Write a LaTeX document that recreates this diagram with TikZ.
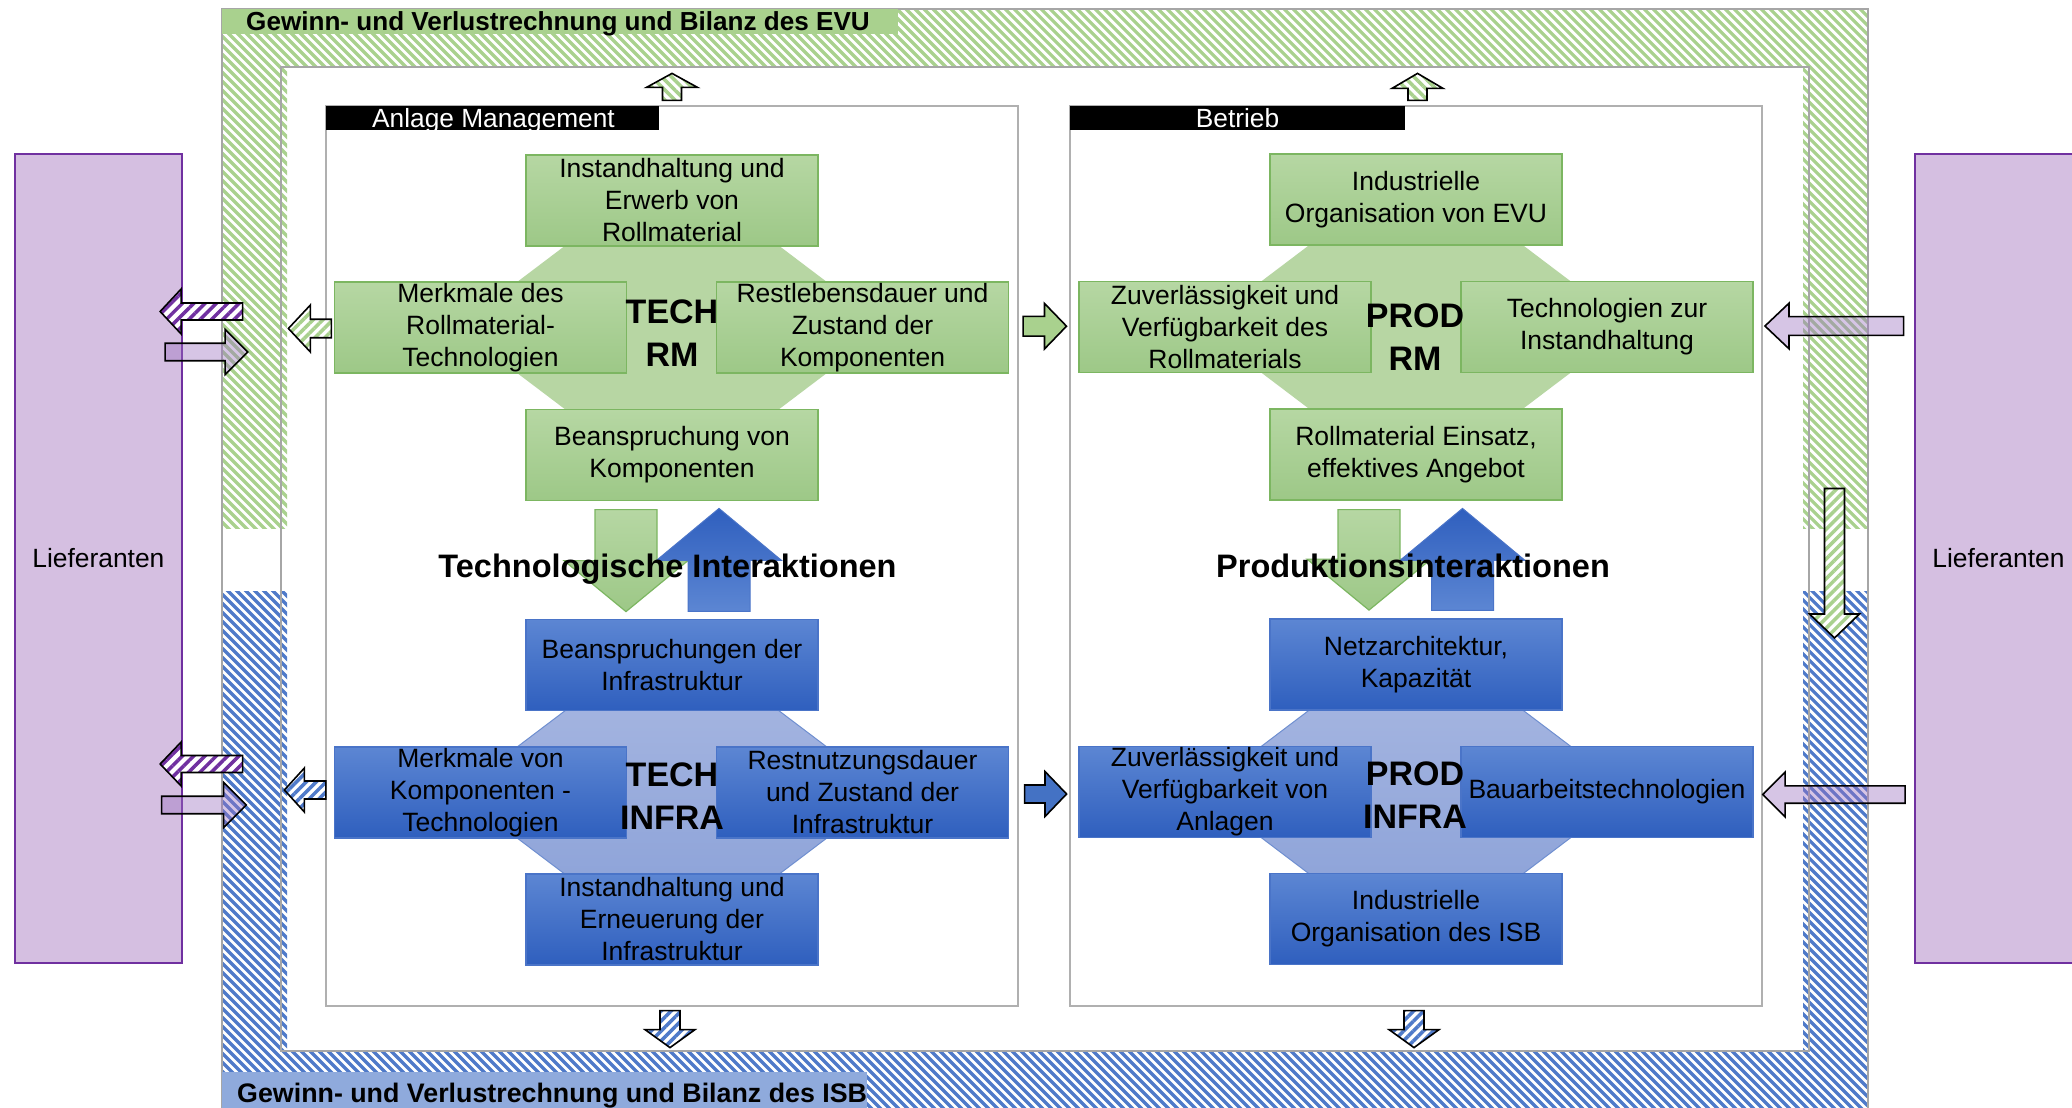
\documentclass[tikz,border=0pt]{standalone}
\usepackage{fontspec}
\setmainfont{Liberation Sans}
\usetikzlibrary{calc,patterns.meta}

\definecolor{hatchG}{HTML}{A9D18E}
\definecolor{hatchB}{HTML}{4F7AC9}
\definecolor{hatchP}{HTML}{7030A0}
\definecolor{frameGray}{HTML}{A6A6A6}
\definecolor{panelGray}{HTML}{B0B0B0}
\definecolor{bandG}{HTML}{A9D18E}
\definecolor{bandB}{HTML}{8FAADC}
\definecolor{lfFill}{HTML}{D5BFE1}
\definecolor{lfLine}{HTML}{7030A0}
\definecolor{purpleArrow}{HTML}{9A6FC0}
\definecolor{gTop}{HTML}{B6D7A3}
\definecolor{gBot}{HTML}{9DC887}
\definecolor{gLine}{HTML}{7CB661}
\definecolor{gOct}{HTML}{B7D6A3}
\definecolor{bTop}{HTML}{5C86D3}
\definecolor{bBot}{HTML}{2F5FBE}
\definecolor{bLine}{HTML}{4A74C8}
\definecolor{bOctTop}{HTML}{A6B6E1}
\definecolor{bOctBot}{HTML}{8CA2D8}
\definecolor{bOctLine}{HTML}{6F8FD0}
\definecolor{solidG}{HTML}{A9D18E}
\definecolor{solidB}{HTML}{4472C4}

% block arrow along x: style, tail point, direction (+1 right / -1 left),
% total length, shaft half width, head half width, head length
\newcommand\hblockarrow[7]{%
  \path[#1,shift={#2}] (0,-#5) -- ({#3*(#4-#7)},-#5) -- ({#3*(#4-#7)},-#6)
    -- ({#3*#4},0) -- ({#3*(#4-#7)},#6) -- ({#3*(#4-#7)},#5) -- (0,#5) -- cycle;}
% block arrow along y (y grows downwards): direction +1 down / -1 up
\newcommand\vblockarrow[7]{%
  \path[#1,shift={#2}] (-#5,0) -- (-#5,{#3*(#4-#7)}) -- (-#6,{#3*(#4-#7)})
    -- (0,{#3*#4}) -- (#6,{#3*(#4-#7)}) -- (#5,{#3*(#4-#7)}) -- (#5,0) -- cycle;}
% octagon behind each group of four boxes
\newcommand\octagonat[2]{%
  \path[#1,shift={#2}] (-67,-112) -- (67,-112) -- (180,-26.5) -- (180,26.5)
    -- (67,112) -- (-67,112) -- (-180,26.5) -- (-180,-26.5) -- cycle;}
% diagonal stripes of the outer frame, drawn inside the current clip
\newcommand\framestripes[1]{%
  \foreach \c in {-1860,-1851,...,890}
    \draw[#1, line width=3.2pt] (222,222+\c) -- (1868,1868+\c);}

\tikzset{
  framegray/.style={draw=frameGray, line width=1.5pt},
  supplier/.style={draw=lfLine, line width=1.5pt, fill=lfFill, minimum width=167pt,
    minimum height=809pt, inner sep=0pt, font=\fontsize{26.4}{32}\selectfont},
  panel/.style={draw=panelGray, line width=1.2pt, fill=white, minimum width=692pt,
    minimum height=900pt, inner sep=0pt},
  tagbar/.style={fill=black, minimum height=24pt, inner sep=0pt},
  tagtext/.style={text=white, font=\fontsize{26.3}{30}\selectfont, inner sep=0pt},
  boxtext/.style={font=\fontsize{26.5}{32}\selectfont, align=center, inner sep=0pt,
    minimum width=292pt, minimum height=91pt},
  gbox/.style={boxtext, draw=gLine, line width=1.2pt, top color=gTop, bottom color=gBot},
  bbox/.style={boxtext, draw=bLine, line width=1.2pt, top color=bTop, bottom color=bBot},
  goct/.style={fill=gOct},
  boct/.style={draw=bOctLine, line width=1pt, top color=bOctTop, bottom color=bOctBot},
  hub/.style={font=\bfseries\fontsize{34}{43}\selectfont, align=center, inner sep=0pt},
  headline/.style={font=\bfseries\fontsize{32.5}{36}\selectfont, inner sep=0pt},
  bigG/.style={draw=gLine, line width=1.2pt, top color=gTop, bottom color=gBot},
  bigB/.style={draw=bLine, line width=1pt, top color=bBot, bottom color=bTop},
  outl/.style={draw=black, line width=1.6pt},
  stripesG/.style={outl, preaction={fill=white},
    pattern={Lines[angle=#1,distance=7pt,line width=3.5pt]}, pattern color=hatchG},
  stripesB/.style={outl, preaction={fill=white},
    pattern={Lines[angle=#1,distance=7pt,line width=3.5pt]}, pattern color=hatchB},
  stripesP/.style={outl, preaction={fill=white},
    pattern={Lines[angle=#1,distance=8pt,line width=3.5pt]}, pattern color=hatchP},
  lightP/.style={outl, fill=purpleArrow, fill opacity=0.4},
  solidGa/.style={outl, fill=solidG},
  solidBa/.style={outl, fill=solidB},
}

\begin{document}
\begin{tikzpicture}[x=1pt,y=-1pt]
\path[use as bounding box, fill=white] (0,0) rectangle (2072,1108);

% suppliers on both sides
\node[supplier] (lfL) at (98.4,558.3) {Lieferanten};
\node[supplier] (lfR) at (1998.4,558.3) {Lieferanten};

% hatched outer frame: EVU part (green) above, ISB part (blue) below
\begin{scope}[even odd rule]
  \clip (222,9) rectangle (1868,1108) (287,67) rectangle (1803,1051);
  \begin{scope}
    \clip (222,9) rectangle (1868,528);
    \framestripes{hatchG}
  \end{scope}
  \begin{scope}
    \clip (222,591) rectangle (1868,1108);
    \framestripes{hatchB}
  \end{scope}
\end{scope}
\draw[framegray] (222,9) rectangle (1868,1112);
\draw[framegray] (281,67) rectangle (1809,1051);

% account bands
\fill[bandG] (222,9) rectangle (898,34);
\node[font=\bfseries\fontsize{26.1}{30}\selectfont, inner sep=0pt, anchor=base west] (evu)
  at (246,31) {Gewinn- und Verlustrechnung und Bilanz des EVU};
\fill[bandB] (222,1072) rectangle (867,1110);
\node[font=\bfseries\fontsize{26.8}{30}\selectfont, inner sep=0pt, anchor=base west] (isb)
  at (237,1102) {Gewinn- und Verlustrechnung und Bilanz des ISB};

% the two panels
\node[panel] (amP) at (672,556) {};
\node[panel] (beP) at (1416,556) {};
\node[tagbar, minimum width=333pt, anchor=north west] (amTag) at (amP.north west) {};
\node[tagtext, anchor=base] (amTxt) at (493.5,127) {Anlage Management};
\node[tagbar, minimum width=335pt, anchor=north west] (beTag) at (beP.north west) {};
\node[tagtext, anchor=base] (beTxt) at (1237.5,127) {Betrieb};

% group centres
\coordinate (trc) at (672,327.5);
\coordinate (tic) at (672,792.5);
\coordinate (prc) at (1416,327);
\coordinate (pic) at (1416,792);

\octagonat{goct}{(trc)}
\octagonat{boct}{(tic)}
\octagonat{goct}{(prc)}
\octagonat{boct}{(pic)}

% TECH RM
\node[gbox] (trTop)   at ($(trc)+(0,-127)$)   {Instandhaltung und\\Erwerb von\\Rollmaterial};
\node[gbox] (trLeft)  at ($(trc)+(-191.5,0)$) {Merkmale des\\Rollmaterial-\\Technologien};
\node[gbox] (trRight) at ($(trc)+(190.5,0)$)  {Restlebensdauer und\\Zustand der\\Komponenten};
\node[gbox] (trBot)   at ($(trc)+(0,127.5)$)  {Beanspruchung von\\Komponenten};
\node[hub] (trHub) at (672,332.7) {TECH\\RM};

% TECH INFRA
\node[bbox] (tiTop)   at ($(tic)+(0,-127.5)$) {Beanspruchungen der\\Infrastruktur};
\node[bbox] (tiLeft)  at ($(tic)+(-191.5,0)$) {Merkmale von\\Komponenten -\\Technologien};
\node[bbox] (tiRight) at ($(tic)+(190.5,0)$)  {Restnutzungsdauer\\und Zustand der\\Infrastruktur};
\node[bbox] (tiBot)   at ($(tic)+(0,127)$)    {Instandhaltung und\\Erneuerung der\\Infrastruktur};
\node[hub] (tiHub) at (672,796.6) {TECH\\INFRA};

% PROD RM
\node[gbox] (prTop)   at ($(prc)+(0,-127.5)$) {Industrielle\\Organisation von EVU};
\node[gbox] (prLeft)  at ($(prc)+(-191,0)$)   {Zuverlässigkeit und\\Verfügbarkeit des\\Rollmaterials};
\node[gbox] (prRight) at ($(prc)+(191,0)$)    {Technologien zur\\Instandhaltung};
\node[gbox] (prBot)   at ($(prc)+(0,127.5)$)  {Rollmaterial Einsatz,\\effektives Angebot};
\node[hub] (prHub) at (1415,336.7) {PROD\\RM};

% PROD INFRA
\node[bbox] (piTop)   at ($(pic)+(0,-127.5)$) {Netzarchitektur,\\Kapazität};
\node[bbox] (piLeft)  at ($(pic)+(-191,0)$)   {Zuverlässigkeit und\\Verfügbarkeit von\\Anlagen};
\node[bbox] (piRight) at ($(pic)+(191,0)$)    {Bauarbeitstechnologien};
\node[bbox] (piBot)   at ($(pic)+(0,127)$)    {Industrielle\\Organisation des ISB};
\node[hub] (piHub) at (1415,795.4) {PROD\\INFRA};

% interaction arrows between rolling stock and infrastructure
\vblockarrow{bigG}{($(trBot.south)+(-46,8.5)$)}{1}{102}{31}{62}{51}
\vblockarrow{bigB}{($(tiTop.north)+(47,-7.5)$)}{-1}{103}{31}{62.5}{52}
\node[headline, anchor=base] (techInt) at (667.5,577) {Technologische Interaktionen};
\vblockarrow{bigG}{($(prBot.south)+(-47,9)$)}{1}{100.5}{31}{62}{51}
\vblockarrow{bigB}{($(piTop.north)+(46.5,-8)$)}{-1}{102}{31}{62.5}{52}
\node[headline, anchor=base] (prodInt) at (1413,577) {Produktionsinteraktionen};

% arrows towards the accounts
\vblockarrow{stripesG=135}{($(amP.north)+(0,-5)$)}{-1}{27}{9.5}{25.5}{14}
\vblockarrow{stripesG=135}{($(beP.north)+(1.5,-5)$)}{-1}{27}{9.5}{25.5}{15}
\vblockarrow{stripesB=45}{($(amP.south)+(-2,4)$)}{1}{37}{10}{25}{18}
\vblockarrow{stripesB=45}{($(beP.south)+(-2,4)$)}{1}{37}{10}{25}{18}
\hblockarrow{stripesG=45}{($(trLeft.west)+(-2.5,1)$)}{-1}{43}{9.25}{23.5}{22}
\hblockarrow{stripesB=45}{($(tiLeft.west)+(-8,-2.5)$)}{-1}{41.5}{9}{22}{20}

% TECH to PROD
\hblockarrow{solidGa}{($(trRight.east)+(14,-1.3)$)}{1}{43.4}{9.85}{22.75}{22}
\hblockarrow{solidBa}{($(tiRight.east)+(15.5,1.5)$)}{1}{42}{9}{22.5}{21.6}

% suppliers, left side
\hblockarrow{stripesP=45}{($(lfL.east)+(60,-246.8)$)}{-1}{82.5}{8.5}{22.5}{21}
\hblockarrow{lightP}{($(lfL.east)+(-17.5,-206.3)$)}{1}{82.5}{8.75}{22.5}{22.5}
\hblockarrow{stripesP=45}{($(lfL.east)+(60,205.7)$)}{-1}{82.5}{8.5}{22}{21}
\hblockarrow{lightP}{($(lfL.east)+(-21,246.7)$)}{1}{84.5}{8.75}{22.5}{22.5}

% suppliers, right side
\hblockarrow{lightP}{($(lfR.west)+(-10.5,-232.3)$)}{-1}{138.7}{9.35}{22.75}{24}
\hblockarrow{lightP}{($(lfR.west)+(-9,236.2)$)}{-1}{142.3}{8.7}{22.5}{22.3}

% EVU to ISB along the right frame
\coordinate (frameR) at (1834.5,488.5);
\vblockarrow{stripesG=45}{(frameR)}{1}{149.5}{10}{25}{24}
\end{tikzpicture}
\end{document}
